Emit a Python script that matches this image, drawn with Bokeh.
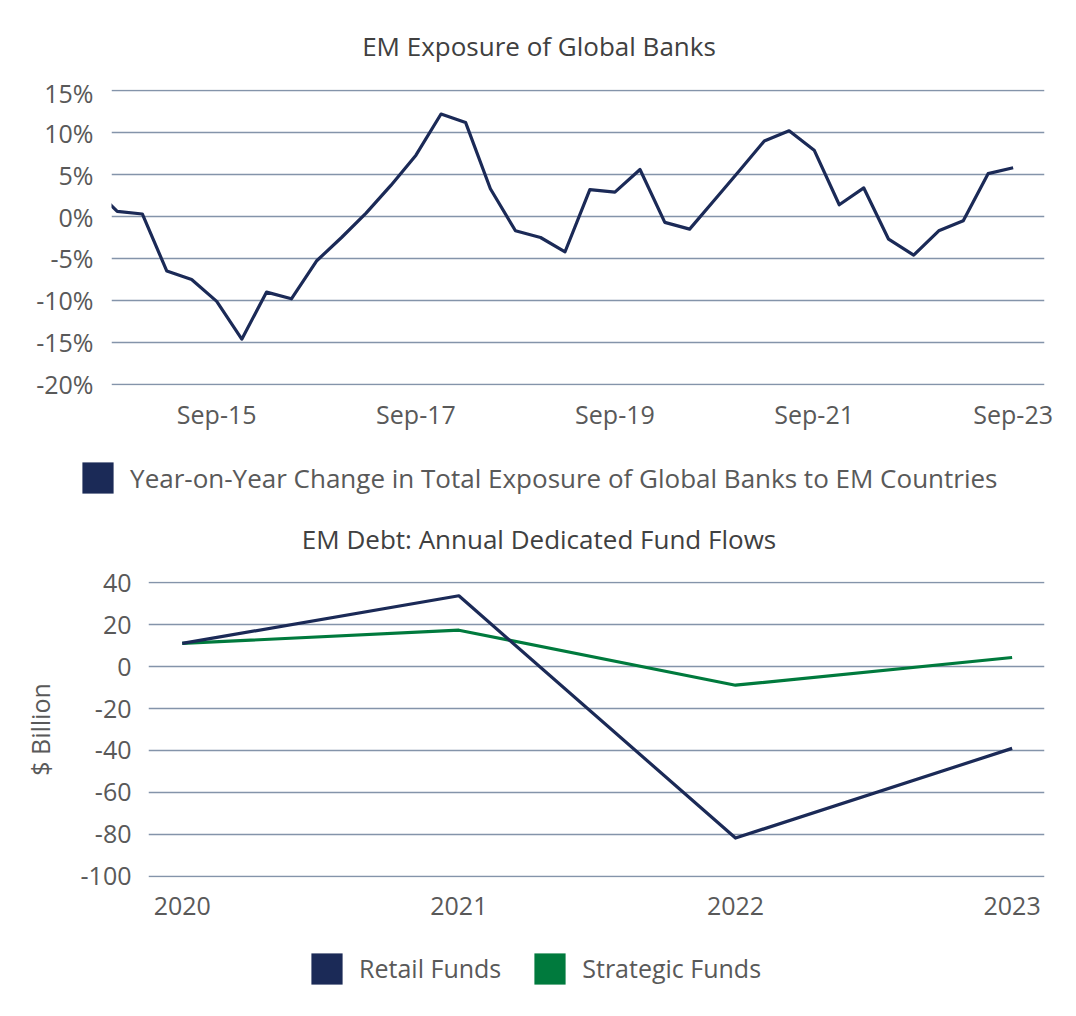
from datetime import datetime
from bokeh.plotting import figure
from bokeh.models import (ColumnDataSource, FixedTicker, PrintfTickFormatter,
                          DatetimeTickFormatter, Range1d, Legend, LegendItem, Label)
from bokeh.embed import file_html
from bokeh.resources import INLINE

# ---------------- data ----------------
quarters = ["2014-06-30", "2014-09-30", "2014-12-31",
            "2015-03-31", "2015-06-30", "2015-09-30", "2015-12-31",
            "2016-03-31", "2016-06-30", "2016-09-30", "2016-12-31",
            "2017-03-31", "2017-06-30", "2017-09-30", "2017-12-31",
            "2018-03-31", "2018-06-30", "2018-09-30", "2018-12-31",
            "2019-03-31", "2019-06-30", "2019-09-30", "2019-12-31",
            "2020-03-31", "2020-06-30", "2020-09-30", "2020-12-31",
            "2021-03-31", "2021-06-30", "2021-09-30", "2021-12-31",
            "2022-03-31", "2022-06-30", "2022-09-30", "2022-12-31",
            "2023-03-31", "2023-06-30", "2023-09-30"]
yoy_change = [3.6, 0.6, 0.3,
              -6.5, -7.5, -10.1, -14.6,
              -9.0, -9.8, -5.3, -2.5,
              0.4, 3.7, 7.3, 12.2,
              11.2, 3.3, -1.7, -2.5,
              -4.2, 3.2, 2.9, 5.6,
              -0.7, -1.5, 2.0, 5.5,
              9.0, 10.2, 7.9, 1.4,
              3.4, -2.7, -4.6, -1.7,
              -0.5, 5.1, 5.8]
top_tick_dates = ["2015-09-30", "2017-09-30", "2019-09-30", "2021-09-30", "2023-09-30"]
top_y_ticks = [-20, -15, -10, -5, 0, 5, 10, 15]

years = [2020, 2021, 2022, 2023]
retail_funds = [11.0, 33.7, -81.7, -39.0]
strategic_funds = [11.0, 17.3, -8.9, 4.3]
bottom_y_ticks = [-100, -80, -60, -40, -20, 0, 20, 40]

top_title = "EM Exposure of Global Banks"
top_legend = "Year-on-Year Change in Total Exposure of Global Banks to EM Countries"
bottom_title = "EM Debt: Annual Dedicated Fund Flows"
bottom_ylabel = "$ Billion"
bottom_legend = ["Retail Funds", "Strategic Funds"]

# ---------------- style ----------------
FONT = "Open Sans"
NAVY = "#1b2a57"
GREEN = "#007a3d"
GRID = "#8494aa"
TICK_TXT = "#595959"
TITLE_TXT = "#404040"
FS = "25px"
TITLE_FS = "26px"
W = 1070
NAN = float("nan")


def to_dt(s):
    return datetime.strptime(s, "%Y-%m-%d")


def style_common(p):
    p.outline_line_color = None
    p.background_fill_color = "white"
    p.border_fill_color = "white"
    p.xgrid.grid_line_color = None
    p.ygrid.grid_line_color = GRID
    p.ygrid.grid_line_width = 1.6
    for ax in (p.xaxis[0], p.yaxis[0]):
        ax.axis_line_color = None
        ax.major_tick_line_color = None
        ax.minor_tick_line_color = None
        ax.major_tick_out = 0
        ax.major_tick_in = 0
        ax.minor_tick_out = 0
        ax.major_label_text_font = FONT
        ax.major_label_text_font_size = FS
        ax.major_label_text_color = TICK_TXT


def blank_fig(height):
    f = figure(width=W, height=height, output_backend="svg", toolbar_location=None,
               x_range=Range1d(0, 1), y_range=Range1d(0, 1),
               x_axis_location=None, y_axis_location=None,
               min_border_left=0, min_border_right=0, min_border_top=0,
               min_border_bottom=0)
    f.grid.visible = False
    f.outline_line_color = None
    f.background_fill_color = "white"
    f.border_fill_color = "white"
    return f


def add_title(f, text, y_from_bottom):
    f.add_layout(Label(x=538.5, y=y_from_bottom, x_units="screen", y_units="screen",
                       text=text, text_align="center", text_baseline="middle",
                       text_font=FONT, text_font_size=TITLE_FS, text_color=TITLE_TXT))


def add_legend(f, labels, colors, loc, font_size):
    items = []
    for lab, col in zip(labels, colors):
        # legend swatch only: a single empty (NaN) quad that draws nothing in the frame
        r = f.quad(left=[NAN], right=[NAN], top=[NAN], bottom=[NAN],
                   fill_color=col, line_color=None)
        items.append(LegendItem(label=lab, renderers=[r]))
    f.add_layout(Legend(items=items, location=loc, orientation="horizontal",
                        glyph_width=39, glyph_height=39, label_standoff=13,
                        spacing=29, padding=0, margin=0, border_line_color=None,
                        background_fill_alpha=0,
                        label_text_font=FONT, label_text_font_size=font_size,
                        label_text_color=TICK_TXT))


# ---------------- header (top title) ----------------
head = blank_fig(75)
add_title(head, top_title, 75 - 45)

# ---------------- top chart ----------------
src_top = ColumnDataSource(dict(date=[to_dt(q) for q in quarters], val=yoy_change))

p1 = figure(width=W, height=365, output_backend="svg", toolbar_location=None,
            x_axis_type="datetime",
            x_range=Range1d(datetime(2014, 9, 9), datetime(2024, 1, 23)),
            y_range=Range1d(-20.12, 15.12),
            min_border_left=111, min_border_right=26, min_border_top=14,
            min_border_bottom=55)
style_common(p1)
p1.line("date", "val", source=src_top, line_color=NAVY, line_width=3.2,
        line_join="round")
p1.yaxis[0].ticker = FixedTicker(ticks=top_y_ticks)
p1.yaxis[0].formatter = PrintfTickFormatter(format="%d%%")
p1.yaxis[0].major_label_standoff = 18
p1.xaxis[0].ticker = FixedTicker(ticks=[to_dt(d).timestamp() * 1000 for d in top_tick_dates])
fmt = "%b-%y"
p1.xaxis[0].formatter = DatetimeTickFormatter(years=fmt, months=fmt, days=fmt,
                                              hours=fmt, minutes=fmt, seconds=fmt,
                                              milliseconds=fmt, microseconds=fmt)
p1.xaxis[0].major_label_standoff = 11

# ---------------- middle (top legend + bottom title) ----------------
mid = blank_fig(120)
add_legend(mid, [top_legend], [NAVY], (78.1, 62.9), "26px")
add_title(mid, bottom_title, 120 - 98)

# ---------------- bottom chart ----------------
src_bot = ColumnDataSource(dict(year=years, retail=retail_funds, strategic=strategic_funds))

p2 = figure(width=W, height=382, output_backend="svg", toolbar_location=None,
            x_range=Range1d(2019.878, 2023.117), y_range=Range1d(-100.5, 40.5),
            min_border_left=148, min_border_right=26, min_border_top=21,
            min_border_bottom=65)
style_common(p2)
p2.line("year", "strategic", source=src_bot, line_color=GREEN, line_width=3.2,
        line_join="round")
p2.line("year", "retail", source=src_bot, line_color=NAVY, line_width=3.2,
        line_join="round")
p2.yaxis[0].ticker = FixedTicker(ticks=bottom_y_ticks)
p2.yaxis[0].formatter = PrintfTickFormatter(format="%d")
p2.yaxis[0].major_label_standoff = 17
p2.yaxis[0].axis_label = bottom_ylabel
p2.yaxis[0].axis_label_text_font = FONT
p2.yaxis[0].axis_label_text_font_size = FS
p2.yaxis[0].axis_label_text_font_style = "normal"
p2.yaxis[0].axis_label_text_color = TICK_TXT
p2.yaxis[0].axis_label_standoff = 21
p2.xaxis[0].ticker = FixedTicker(ticks=years)
p2.xaxis[0].formatter = PrintfTickFormatter(format="%d")
p2.xaxis[0].major_label_standoff = 19

# ---------------- bottom legend ----------------
foot = blank_fig(70)
add_legend(foot, bottom_legend, [NAVY, GREEN], (307.1, 24.2), FS)

open("out.html", "w").write(file_html([head, p1, mid, p2, foot], INLINE))
